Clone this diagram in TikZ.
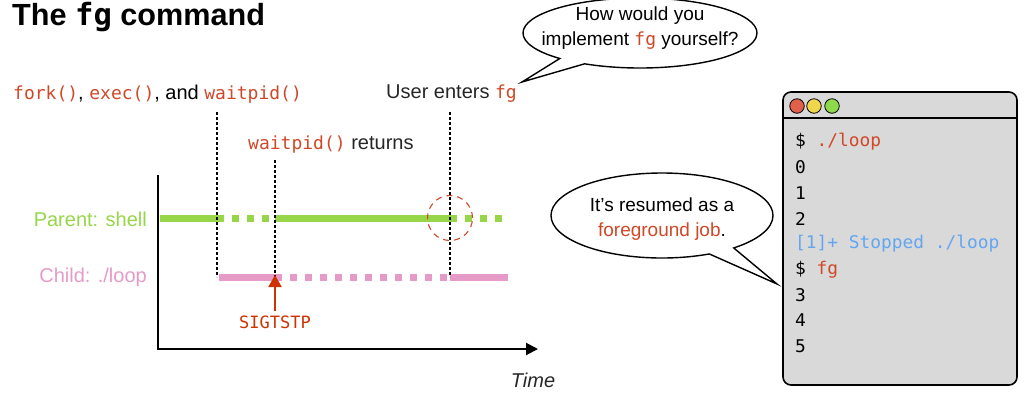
\documentclass[tikz,border=0pt]{standalone}
\usepackage{fontspec}
\setmainfont{Liberation Sans}
\newfontfamily\mono{DejaVu Sans Mono}
\newfontfamily\termfont[FakeStretch=1.02]{DejaVu Sans Mono}
\usetikzlibrary{arrows.meta,shapes.callouts,shapes.geometric}
\definecolor{codered}{RGB}{208,72,40}
\definecolor{pgreen}{RGB}{150,214,72}
\definecolor{cpink}{RGB}{230,154,200}
\definecolor{tblue}{RGB}{100,165,240}
\definecolor{termgray}{RGB}{217,217,217}
\definecolor{sigred}{RGB}{204,51,0}
\definecolor{dotred}{RGB}{224,96,74}
\definecolor{dotyel}{RGB}{240,214,74}
\definecolor{dotgrn}{RGB}{142,217,74}
\tikzset{
  lbl/.style={font=\fontsize{20}{24}\selectfont, inner sep=0pt},
  guide/.style={draw=black, line width=1.6pt, dash pattern=on 2.5pt off 2.5pt},
  run/.style={line width=7pt},
  wait/.style={line width=7pt, dash pattern=on 7pt off 8pt},
  bubble/.style={ellipse callout, draw=black, line width=1.4pt, fill=white, inner sep=0pt},
  bubbletext/.style={align=center, inner sep=0pt, font=\fontsize{19}{24.5}\selectfont},
  termline/.style={font=\termfont\fontsize{17.5}{20}\selectfont, anchor=west, inner sep=0pt},
  light/.style={circle, draw=black, line width=0.8pt, minimum size=14.5pt, inner sep=0pt}
}
\begin{document}
\begin{tikzpicture}[x=1pt,y=-1pt]
\useasboundingbox (0,0) rectangle (1032,405);

% title
\node[anchor=base west, inner sep=0pt, font=\bfseries\fontsize{30.6}{32}\selectfont] (title) at (12,25)
  {The {\mono\bfseries fg} command};

% labels
\node[lbl, anchor=west] (forklbl) at (13,94)
  {{\mono\fontsize{18}{20}\selectfont\color{codered}fork()}, {\mono\fontsize{18}{20}\selectfont\color{codered}exec()}, and {\mono\fontsize{18}{20}\selectfont\color{codered}waitpid()}};
\node[lbl, anchor=east, text=black!85] (userlbl) at (517,94)
  {User enters {\mono\fontsize{18}{20}\selectfont\color{codered}fg}};
\node[lbl, anchor=west, text=black!85] (retlbl) at (248,145)
  {{\mono\fontsize{18}{20}\selectfont\color{codered}waitpid()} returns};

\node[lbl, anchor=east, text=pgreen] (parent) at (147,219) {Parent: shell};
\node[lbl, anchor=east, text=cpink] (child) at (147,277) {Child: ./loop};
\node[anchor=center, inner sep=0pt, font=\itshape\fontsize{20}{24}\selectfont, text=black!85] (time) at (533,380) {Time};

% key coordinates
\coordinate (p0) at (160,218);
\coordinate (p1) at (217,218);
\coordinate (p2) at (275,218);
\coordinate (p3) at (450,218);
\coordinate (p4) at (508,218);
\coordinate (c1) at (219,277);
\coordinate (c2) at (275,277);
\coordinate (c3) at (450,277);
\coordinate (c4) at (508,277);
\coordinate (g1top) at (217,112);
\coordinate (g1bot) at (217,277);
\coordinate (g2top) at (275,160);
\coordinate (g3top) at (450,112);
\coordinate (g3bot) at (450,277);
\coordinate (ax0) at (158,175);
\coordinate (axc) at (158,349);
\coordinate (ax1) at (538,349);

% timelines
\draw[run, pgreen] (p0) -- (p1);
\draw[wait, pgreen] (p1) -- (p2);
\draw[run, pgreen] (p2) -- (p3);
\draw[wait, pgreen] (p3) -- (p4);
\draw[run, cpink] (c1) -- (c2);
\draw[wait, cpink] (c2) -- (c3);
\draw[run, cpink] (c3) -- (c4);

% guides
\draw[guide] (g1top) -- (g1bot);
\draw[guide] (g2top) -- (c2);
\draw[guide] (g3top) -- (g3bot);

% axes
\draw[line width=2pt, -{Triangle[length=12pt,width=12pt]}] (ax0) -- (axc) -- (ax1);

% SIGTSTP
\node[inner sep=0pt, font=\mono\fontsize{17}{20}\selectfont, text=sigred] (sig) at (275,322) {SIGTSTP};
\coordinate (sigtail) at (275,311);
\draw[line width=2pt, sigred, -{Triangle[length=12pt,width=13pt]}] (sigtail) -- ([yshift=2pt]c2);

% highlight circle
\node[circle, draw=codered, line width=1.1pt, minimum size=45pt, dash pattern=on 6pt off 5pt] (hl) at (450,218) {};

% bubbles
\coordinate (tip1) at (522,82);
\node[bubble, minimum width=234pt, minimum height=70pt, callout absolute pointer={(tip1)}] (b1) at (640,33) {};
\node[bubbletext] (b1t) at (640,28)
  {How would you\\implement {\mono\fontsize{18}{20}\selectfont\color{codered}fg} yourself?};
\coordinate (tip2) at (777,284);
\node[bubble, minimum width=222pt, minimum height=85pt, callout absolute pointer={(tip2)}] (b2) at (662,215.5) {};
\node[bubbletext] (b2t) at (662,219)
  {It’s resumed as a\\{\color{codered}foreground job}.};

% terminal
\draw[fill=termgray, line width=1.6pt, rounded corners=8pt] (783,92) rectangle (1017,385);
\coordinate (sepL) at (783,118);
\coordinate (sepR) at (1017,118);
\draw[line width=1.4pt] (sepL) -- (sepR);
\node[light, fill=dotred] (l1) at (797,106) {};
\node[light, fill=dotyel] (l2) at (814,106) {};
\node[light, fill=dotgrn] (l3) at (832,106) {};

\node[termline] (t1) at (795,142) {\$ {\color{codered}./loop}};
\node[termline] (t2) at (795,167.5) {0};
\node[termline] (t3) at (795,193) {1};
\node[termline] (t4) at (795,218.5) {2};
\node[termline, text=tblue] (t5) at (795,244) {[1]+ Stopped ./loop};
\node[termline] (t6) at (795,269.5) {\$ {\color{codered}fg}};
\node[termline] (t7) at (795,295) {3};
\node[termline] (t8) at (795,320.5) {4};
\node[termline] (t9) at (795,346) {5};
\end{tikzpicture}
\end{document}
